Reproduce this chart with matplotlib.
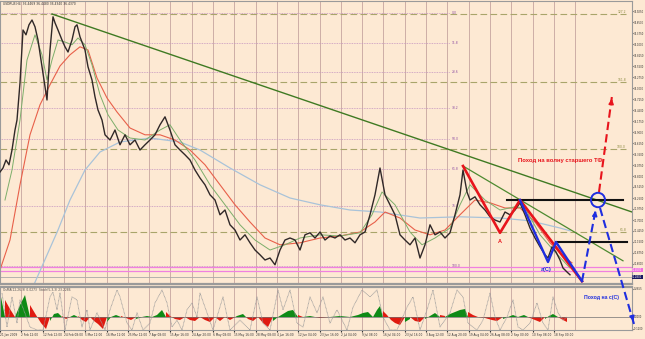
import numpy as np
import matplotlib.pyplot as plt
from matplotlib.patches import Ellipse

# ---- price data (H4 closes, bar index ~ chart x) ----
bar = [0, 3, 6, 9, 12, 15, 17, 20, 23, 26, 29, 32, 35, 38, 42, 45, 47, 50, 53, 55,
       58, 62, 65, 68, 72, 75, 77, 80, 85, 88, 92, 95, 98, 102, 105, 110, 115, 120, 125, 130,
       135, 140, 145, 150, 155, 160, 165, 170, 175, 180, 185, 190, 195, 200, 205, 210, 215, 220, 225, 230,
       235, 240, 245, 250, 255, 260, 265, 270, 275, 280, 285, 290, 295, 300, 305, 310, 315, 320, 325, 330,
       335, 340, 345, 350, 355, 360, 365, 370, 375, 380, 385, 390, 395, 400, 405, 410, 415, 420, 425, 430,
       435, 440, 445, 450, 455, 460, 463, 467, 470, 475, 480, 485, 490, 495, 500, 505, 510, 515, 520, 525,
       530, 535, 540, 545, 548, 552, 556, 560, 563, 567, 570]
close = [32.90, 33.00, 33.20, 33.08, 33.45, 33.95, 34.20, 35.13, 36.45, 36.33, 36.58, 36.70, 36.53, 36.20, 35.53, 35.03, 34.70, 35.95, 36.78, 36.63,
         36.45, 36.20, 36.03, 35.90, 36.20, 36.53, 36.58, 36.28, 35.95, 35.53, 35.20, 34.78, 34.45, 34.20, 33.83, 33.70, 33.95, 33.58, 33.83, 33.58,
         33.70, 33.45, 33.58, 33.70, 33.83, 34.08, 34.28, 33.95, 33.58, 33.45, 33.33, 33.20, 32.95, 32.75, 32.58, 32.33, 32.20, 31.83, 31.95, 31.58,
         31.45, 31.20, 31.33, 31.13, 30.95, 30.83, 30.70, 30.75, 30.58, 30.95, 31.20, 31.25, 31.20, 30.95, 31.33, 31.38, 31.25, 31.40, 31.20, 31.30,
         31.25, 31.33, 31.20, 31.25, 31.13, 31.33, 31.40, 31.83, 32.33, 33.00, 32.33, 32.08, 31.83, 31.33, 31.20, 31.08, 31.25, 30.75, 31.08, 31.58,
         31.33, 31.40, 31.25, 31.38, 31.83, 32.33, 32.95, 32.40, 32.20, 32.28, 32.08, 31.95, 31.78, 31.70, 31.65, 31.90, 31.83, 31.95, 32.13, 31.83,
         31.50, 31.25, 31.03, 30.83, 30.75, 31.03, 30.90, 30.70, 30.50, 30.40, 30.33]

ma_fast_x = [5, 12, 20, 27, 35, 42, 47, 52, 58, 65, 72, 78, 85, 92, 100, 108, 118, 130, 145, 160,
             170, 180, 195, 210, 225, 240, 255, 270, 285, 300, 320, 340, 360, 372, 382, 395, 410, 422, 435, 450,
             460, 470, 485, 500, 515, 525, 540, 555, 570]
ma_fast = [32.20, 32.95, 34.20, 35.70, 36.33, 35.83, 35.20, 35.70, 36.20, 36.15, 36.08, 36.25, 36.08, 35.58, 34.83, 34.33, 33.95, 33.75, 33.70, 33.95,
           34.08, 33.70, 33.20, 32.58, 32.08, 31.58, 31.20, 30.95, 31.08, 31.25, 31.33, 31.30, 31.38, 31.83, 32.40, 32.08, 31.40, 31.08, 31.25, 31.50,
           32.08, 32.58, 32.20, 31.95, 32.03, 32.00, 31.33, 30.90, 30.50]

ma_mid_x = [0, 10, 20, 30, 40, 50, 60, 70, 80, 88, 97, 107, 117, 130, 145, 160, 175, 190, 205, 220,
            235, 250, 265, 280, 300, 320, 340, 360, 375, 385, 400, 415, 430, 445, 460, 475, 490, 505, 520, 535,
            550, 565, 572]
ma_mid = [30.45, 31.20, 32.58, 33.83, 34.58, 35.08, 35.55, 35.83, 36.03, 35.95, 35.25, 34.75, 34.40, 34.00, 33.83, 33.83, 33.70, 33.45, 33.08, 32.58,
          32.08, 31.65, 31.25, 31.08, 31.13, 31.25, 31.30, 31.40, 31.65, 31.90, 31.75, 31.45, 31.33, 31.45, 31.83, 32.20, 32.13, 32.00, 32.00, 31.65,
          31.13, 30.75, 30.63]

ma_slow_x = [33, 58, 70, 85, 100, 120, 150, 180, 200, 230, 260, 290, 320, 350, 380, 420, 460, 500, 530, 560, 570]
ma_slow = [30.03, 31.45, 32.20, 32.95, 33.40, 33.65, 33.75, 33.65, 33.45, 33.00, 32.58, 32.25, 32.08, 31.95, 31.90, 31.75, 31.78, 31.75, 31.68, 31.50, 31.43]

# ---- oscillator panel ----
hist_x = [0, 5, 10, 15, 20, 25, 30, 36, 41, 46, 50, 54, 58, 62, 66, 70, 74, 78, 82, 86,
          90, 94, 98, 103, 107, 111, 116, 121, 126, 131, 136, 142, 147, 152, 157, 162, 166, 170, 175, 180,
          185, 190, 195, 200, 205, 210, 215, 220, 225, 230, 237, 243, 248, 253, 258, 263, 268, 273, 278, 283,
          288, 293, 298, 303, 310, 320, 330, 340, 350, 358, 363, 368, 373, 377, 380, 383, 387, 391, 395, 400,
          405, 410, 415, 420, 425, 430, 435, 440, 445, 450, 455, 460, 465, 468, 473, 478, 485, 492, 497, 503,
          508, 513, 518, 524, 530, 535, 540, 545, 549, 553, 558, 563, 567]
hist = [0.25, 0.17, 0.08, 0.00, 0.12, 0.22, 0.12, 0.02, -0.06, -0.12, -0.04, 0.03, 0.04, 0.01, -0.02, 0.00, 0.02, 0.01, -0.03, -0.05,
        -0.01, -0.04, -0.07, -0.12, -0.05, 0.00, 0.02, 0.01, -0.01, -0.03, -0.02, 0.00, 0.01, 0.00, 0.02, 0.07, 0.05, 0.01, -0.02, -0.03,
        -0.01, -0.03, -0.04, -0.02, -0.03, -0.05, -0.02, -0.04, -0.02, -0.03, 0.01, 0.03, -0.02, -0.04, -0.03, -0.06, -0.10, -0.04, 0.00, 0.03,
        0.06, 0.07, 0.02, 0.00, 0.01, -0.01, 0.00, 0.01, 0.00, 0.02, 0.04, 0.05, 0.03, 0.07, 0.11, 0.06, 0.02, -0.03, -0.06, -0.08,
        -0.05, -0.02, -0.04, -0.05, -0.02, 0.01, 0.04, 0.02, 0.01, 0.03, 0.05, 0.07, 0.08, 0.05, 0.02, 0.00, -0.01, -0.03, -0.04, -0.02,
        0.00, 0.02, 0.01, 0.02, -0.01, -0.03, -0.05, -0.02, 0.01, 0.03, 0.00, -0.03, -0.05]

stoch_x = [2, 7, 12, 17, 20, 30, 37, 43, 50, 53, 57, 60, 65, 72, 77, 82, 87, 90, 97, 105,
           110, 117, 120, 127, 132, 137, 143, 150, 155, 162, 167, 172, 177, 182, 187, 192, 197, 200, 207, 213,
           223, 230, 240, 250, 257, 263, 270, 278, 283, 290, 297, 303, 310, 317, 323, 330, 337, 347, 353, 362,
           370, 377, 383, 390, 397, 407, 413, 420, 427, 433, 440, 450, 457, 463, 468, 477, 483, 490, 495, 500,
           507, 513, 518, 523, 530, 537, 543, 548, 553, 558, 563, 567]
stoch = [86, 7, 77, 16, 70, 7, 0, 0, 77, 88, 47, 86, 0, 77, 70, 7, 47, 0, 40, 0,
         47, 93, 77, 16, 0, 40, 0, 16, 63, 93, 63, 7, 23, 0, 47, 63, 30, 86, 40, 0,
         77, 0, 23, 0, 77, 16, 0, 93, 47, 93, 16, 7, 77, 40, 77, 16, 47, 0, 53, 93,
         77, 93, 30, 0, 0, 53, 77, 0, 47, 93, 7, 40, 93, 77, 16, 0, 23, 86, 30, 0,
         30, 70, 7, 0, 16, 63, 16, 0, 77, 40, 23, 30]

# ---- drawn objects ----
trend1_x, trend1_y = [52, 632], [36.85, 31.90]
trend2_x, trend2_y = [463, 623], [33.05, 30.68]
red_wave_x, red_wave_y = [463, 500, 520, 582], [33.05, 31.38, 32.20, 30.17]
blue_wave_x, blue_wave_y = [520, 548, 556, 582], [32.20, 30.65, 31.15, 30.17]
black1_x, black1_y = [507, 623], [32.20, 32.20]
black2_x, black2_y = [556, 627], [31.15, 31.15]
proj_up_x, proj_up_y = [582, 596], [30.17, 32.00]
proj_dn_x, proj_dn_y = [600, 634], [32.00, 29.10]
proj_red_x, proj_red_y = [599, 612], [32.40, 34.80]
circle_xy = (598, 32.20)

olive_levels = [36.85, 35.15, 33.48, 31.40]
olive_labels = ['127.2', '161.8', '100.0', '61.8']
fib_levels = [36.88, 36.13, 35.40, 34.50, 33.73, 32.98, 32.05, 30.55]
fib_labels = ['0.0', '11.8', '23.6', '38.2', '50.0', '61.8', '76.4', '100.0']
pink_levels = [30.53, 30.43]
bid = 30.28

date_labels = ['21 Jan 2009', '2 Feb 12:00', '12 Feb 12:00', '24 Feb 08:00', '5 Mar 12:00', '16 Mar 12:00',
               '25 Mar 12:00', '7 Apr 08:00', '15 Apr 16:00', '24 Apr 20:00', '6 May 08:00', '15 May 16:00',
               '28 May 08:00', '4 Jun 16:00', '12 Jun 04:00', '23 Jun 16:00', '2 Jul 04:00', '9 Jul 08:00',
               '16 Jul 04:00', '23 Jul 16:00', '3 Aug 12:00', '12 Aug 20:00', '19 Aug 04:00', '26 Aug 08:00',
               '2 Sep 00:00', '10 Sep 08:00', '18 Sep 00:00']

bg = '#fde9d3'
gridc = '#cdaea6'
W, H = 645, 339
small = 2.2
scale_fs = 1.8

fig = plt.figure(figsize=(W / 100, H / 100), dpi=100)
fig.patch.set_facecolor(bg)
ax = fig.add_axes([0, (H - 284) / H, 632 / W, 283 / H])
ind = fig.add_axes([0, 9 / H, 632 / W, 43 / H])
ax.set_zorder(3)
for a in (ax, ind):
    a.set_facecolor(bg)
    a.set_xlim(0, 632)
    for s in a.spines.values():
        s.set_color('#9a9a9a')
        s.set_linewidth(0.8)
ax.set_ylim(30.1, 37.175)
ind.set_ylim(-0.13, 0.30)
ax.spines['bottom'].set_linewidth(1.6)
ind.spines['top'].set_linewidth(1.6)

grid_x = np.arange(0, 580, 21.3)
for gx in grid_x:
    ax.axvline(gx, color=gridc, lw=0.7, zorder=0)
    ind.axvline(gx, color=gridc, lw=0.7, zorder=0)

# levels
for lv, lb in zip(olive_levels, olive_labels):
    ax.plot([0, 626], [lv, lv], color='#a9a56a', lw=0.8, ls=(0, (6, 3)), zorder=1)
    ax.text(626, lv, lb, fontsize=small, color='#8a8a40', ha='right', va='bottom')
for lv, lb in zip(fib_levels, fib_labels):
    ax.plot([0, 450], [lv, lv], color='#c595c0', lw=0.6, ls=(0, (1, 1)), zorder=1)
    ax.text(452, lv, lb, fontsize=small, color='#8a4aa0', ha='left', va='center')
for lv in pink_levels:
    ax.axhline(lv, color='#f080e0', lw=0.9, zorder=1)
ax.axhline(bid, color='#a8a8a8', lw=0.6, zorder=1)

# price and averages
ax.plot(ma_slow_x, ma_slow, color='#a9c3d9', lw=0.9, zorder=2)
ax.plot(ma_mid_x, ma_mid, color='#e8604a', lw=0.8, zorder=2)
ax.plot(ma_fast_x, ma_fast, color='#7cae6a', lw=0.7, zorder=2)
ax.plot(bar, close, color='#302828', lw=1.0, zorder=3)

# trendlines and waves
ax.plot(trend1_x, trend1_y, color='#3f7a22', lw=1.0, zorder=4)
ax.plot(trend2_x, trend2_y, color='#4d8a30', lw=0.9, zorder=4)
ax.plot(black1_x, black1_y, color='#111111', lw=1.5, zorder=4)
ax.plot(black2_x, black2_y, color='#111111', lw=1.5, zorder=4)
ax.plot(red_wave_x, red_wave_y, color='#e8141c', lw=1.9, zorder=5)
ax.plot(blue_wave_x, blue_wave_y, color='#1f2ee0', lw=1.7, zorder=5)

dash = (0, (4, 2))
ax.plot(proj_up_x, proj_up_y, color='#1f2ee0', lw=1.5, ls=dash, zorder=5, clip_on=False)
ax.annotate('', xy=(proj_up_x[1], proj_up_y[1]), xytext=(proj_up_x[1] - 1.5, proj_up_y[1] - 0.25),
            arrowprops=dict(arrowstyle='-|>', color='#1f2ee0', lw=1.2, mutation_scale=7), annotation_clip=False)
ax.plot(proj_dn_x, proj_dn_y, color='#1f2ee0', lw=1.5, ls=dash, zorder=5, clip_on=False)
ax.annotate('', xy=(proj_dn_x[1], proj_dn_y[1]), xytext=(proj_dn_x[1] - 1.5, proj_dn_y[1] + 0.15),
            arrowprops=dict(arrowstyle='-|>', color='#1f2ee0', lw=1.2, mutation_scale=7), annotation_clip=False)
ax.plot(proj_red_x, proj_red_y, color='#e8141c', lw=1.5, ls=dash, zorder=5)
ax.annotate('', xy=(proj_red_x[1], proj_red_y[1]), xytext=(proj_red_x[1] - 0.8, proj_red_y[1] - 0.2),
            arrowprops=dict(arrowstyle='-|>', color='#e8141c', lw=1.2, mutation_scale=7))
ax.add_patch(Ellipse(circle_xy, 14, 0.36, fill=False, ec='#1f2ee0', lw=1.4, zorder=6))

ax.text(560, 33.18, 'Поход на волну старшего ТФ', color='#e8141c', fontsize=4.2, fontweight='bold',
        ha='center', va='center', family='Liberation Sans')
ax.text(500, 31.15, 'A', color='#e8141c', fontsize=4, fontweight='bold', ha='center', va='center',
        family='Liberation Sans')
ax.text(546, 30.47, 'a(C)', color='#1f2ee0', fontsize=4, fontweight='bold', ha='center', va='center',
        family='Liberation Sans')
ind.text(601, 0.20, 'Поход на c(C)', color='#1f2ee0', fontsize=3.7, fontweight='bold', ha='center', va='center',
         family='Liberation Sans')

ax.text(0.005, 0.997, 'USDRUB,H4  36.4469 36.4480 36.4340 36.4370', transform=ax.transAxes,
        fontsize=small, color='#303030', va='top')

# right price scale
ax.yaxis.tick_right()
ticks = np.arange(30.6, 37.1, 0.275)
ax.set_yticks(ticks)
ax.set_yticklabels([f'{t:.4f}' for t in ticks])
ax.tick_params(axis='y', labelsize=scale_fs, length=1.0, pad=0.3, colors='#303030')
ax.set_xticks([])
ax.text(632.3, 30.45, '30.4500', fontsize=scale_fs, color='white', va='center', ha='left',
        bbox=dict(boxstyle='square,pad=0.1', fc='#f070e0', ec='none'), clip_on=False)
ax.text(632.3, bid, f'{bid:.4f}', fontsize=scale_fs, color='white', va='center', ha='left',
        bbox=dict(boxstyle='square,pad=0.1', fc='#1a1a60', ec='none'), clip_on=False)

# oscillator
hx = np.array(hist_x)
hv = np.array(hist)
up = np.r_[True, np.diff(hv) >= 0]
ind.fill_between(hx, 0, hv, where=up, color='#0e8a16', interpolate=True, lw=0)
ind.fill_between(hx, 0, hv, where=~up, color='#e01a10', interpolate=True, lw=0)
ind.axhline(0, color='#707070', lw=0.5)
st = ind.twinx()
st.set_ylim(0, 100)
st.plot(stoch_x, stoch, color='#9a9a9a', lw=0.6, ls=(0, (1, 0.6)))
st.set_yticks([])
for s in st.spines.values():
    s.set_visible(False)
ind.yaxis.tick_right()
ind.set_yticks([0.28, 0.0, -0.12])
ind.set_yticklabels(['0.2855', '0.0000', '-0.1200'])
ind.tick_params(axis='y', labelsize=scale_fs, length=1.0, pad=0.3, colors='#303030')
ind.text(0.005, 0.97, 'OsMA(12,26,9) 0.0273  Stoch(5,3,3) 23.2286', transform=ind.transAxes,
         fontsize=small, color='#505050', va='top')

ind.set_xticks(np.arange(len(date_labels)) * 21.3)
ind.set_xticklabels(date_labels, ha='left')
ind.tick_params(axis='x', labelsize=2.1, length=1.2, pad=1, colors='#303030')

fig.savefig('out.png', dpi=100, facecolor=bg)
